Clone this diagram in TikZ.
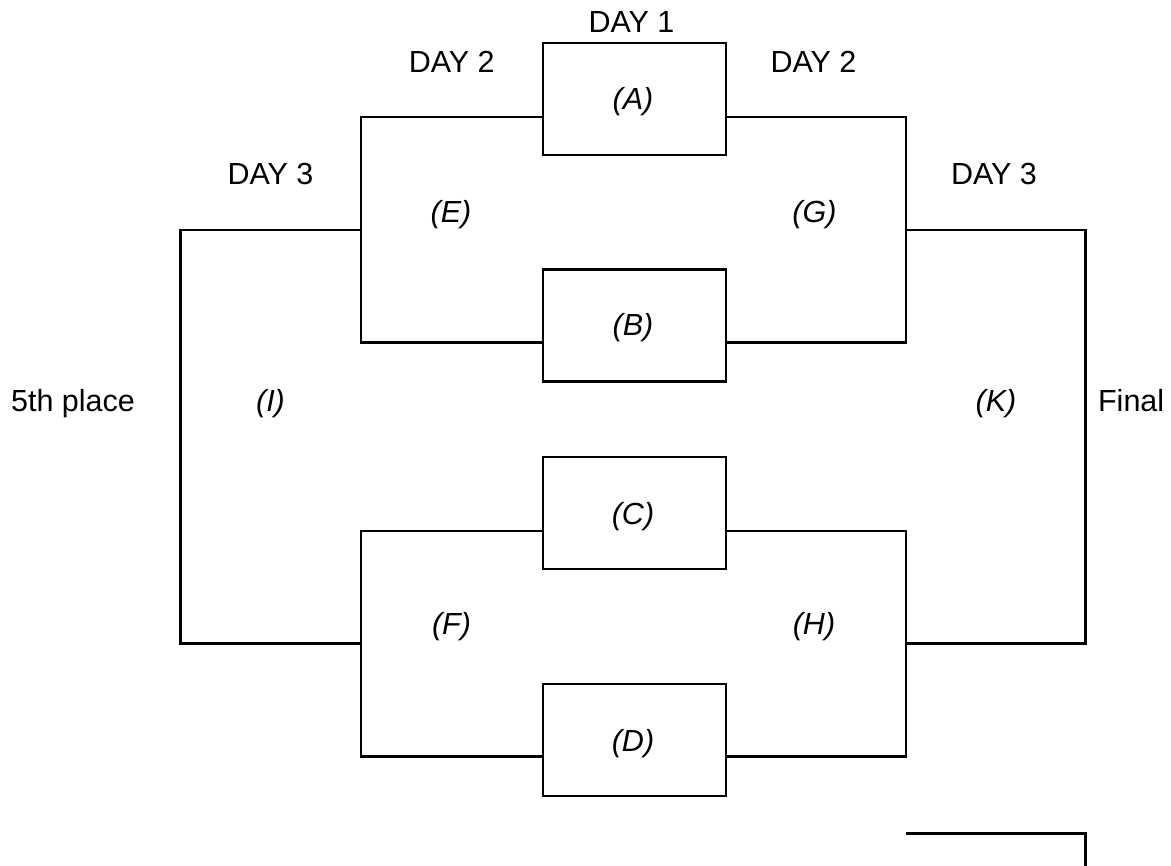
\documentclass[tikz,border=0pt]{standalone}
\usepackage{fontspec}
\setmainfont{Liberation Sans}
\begin{document}
\begin{tikzpicture}[x=1pt,y=-1pt,
  line width=2.2pt,
  match/.style={draw,line width=2.2pt,minimum width=183pt,minimum height=112pt,inner sep=0pt,anchor=north west},
  lbl/.style={font=\fontsize{30.5}{36}\selectfont\itshape,inner sep=0pt,anchor=base},
  hdr/.style={font=\fontsize{30.5}{36}\selectfont,inner sep=0pt,anchor=base}]
\useasboundingbox (0,0) rectangle (1171,866);
% boxes
\node[match] (A) at (541.5,42) {};
\node[match] (B) at (541.5,268.5) {};
\node[match] (C) at (541.5,456) {};
\node[match] (D) at (541.5,682.5) {};
\node[lbl] (la) at (633,110) {(A)};
\node[lbl] (lb) at (633,336) {(B)};
\node[lbl] (lc) at (633,525) {(C)};
\node[lbl] (ld) at (633,751) {(D)};
% bracket coordinates
\coordinate (aL) at (541.5,117);
\coordinate (aR) at (724.5,117);
\coordinate (bL) at (541.5,342.5);
\coordinate (bR) at (724.5,342.5);
\coordinate (cL) at (541.5,531);
\coordinate (cR) at (724.5,531);
\coordinate (dL) at (541.5,756.5);
\coordinate (dR) at (724.5,756.5);
\coordinate (e1) at (361,117);
\coordinate (e2) at (361,342.5);
\coordinate (g1) at (906,117);
\coordinate (g2) at (906,342.5);
\coordinate (f1) at (361,531);
\coordinate (f2) at (361,756.5);
\coordinate (h1) at (906,531);
\coordinate (h2) at (906,756.5);
\coordinate (eM) at (361,230);
\coordinate (fM) at (361,643.5);
\coordinate (gM) at (906,230);
\coordinate (hM) at (906,643.5);
\coordinate (i1) at (180.5,230);
\coordinate (i2) at (180.5,643.5);
\coordinate (k1) at (1085.5,230);
\coordinate (k2) at (1085.5,643.5);
\coordinate (z1) at (906,833.5);
\coordinate (z2) at (1085.5,833.5);
\coordinate (z3) at (1085.5,870);
% connectors
\draw (aL) -- (e1) -- (e2) -- (bL);
\draw (aR) -- (g1) -- (g2) -- (bR);
\draw (cL) -- (f1) -- (f2) -- (dL);
\draw (cR) -- (h1) -- (h2) -- (dR);
\draw (eM) -- (i1) -- (i2) -- (fM);
\draw (gM) -- (k1) -- (k2) -- (hM);
\draw (z1) -- (z2) -- (z3);
% labels
\node[lbl] (le) at (451,223) {(E)};
\node[lbl] (lg) at (814.5,223) {(G)};
\node[lbl] (lf) at (451.5,634) {(F)};
\node[lbl] (lh) at (814,634) {(H)};
\node[lbl] (li) at (270.5,412) {(I)};
\node[lbl] (lk) at (996,412) {(K)};
\node[hdr] (d1) at (631.5,33) {DAY 1};
\node[hdr] (d2l) at (451.7,72.7) {DAY 2};
\node[hdr] (d2r) at (813.5,72.7) {DAY 2};
\node[hdr] (d3l) at (270.5,185) {DAY 3};
\node[hdr] (d3r) at (994,185) {DAY 3};
\node[hdr,anchor=base west] (fifth) at (10,412) {5th place};
\node[hdr,anchor=base west] (fin) at (1097,412) {Final};
\end{tikzpicture}
\end{document}
